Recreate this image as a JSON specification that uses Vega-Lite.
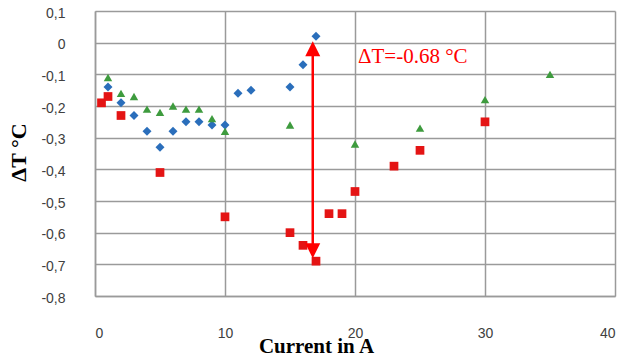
{
  "$schema": "https://vega.github.io/schema/vega-lite/v6.json",
  "width": 520,
  "height": 285,
  "autosize": {"type": "none"},
  "padding": {"left": 95, "top": 11, "right": 11, "bottom": 62},
  "background": "white",
  "config": {
    "view": {"stroke": null},
    "axis": {
      "grid": true,
      "gridColor": "#9a9a9a",
      "gridWidth": 1.5,
      "domainColor": "#9a9a9a",
      "domainWidth": 1.5,
      "ticks": false,
      "labelFont": "Liberation Sans",
      "labelFontSize": 14,
      "labelColor": "#404040",
      "labelOverlap": false,
      "titleFont": "Liberation Serif",
      "titleFontWeight": "bold",
      "titleColor": "#000000"
    }
  },
  "datasets": {
    "points": [
      {"x": 1, "y": -0.14, "s": "blue"},
      {"x": 2, "y": -0.19, "s": "blue"},
      {"x": 3, "y": -0.23, "s": "blue"},
      {"x": 4, "y": -0.28, "s": "blue"},
      {"x": 5, "y": -0.33, "s": "blue"},
      {"x": 6, "y": -0.28, "s": "blue"},
      {"x": 7, "y": -0.25, "s": "blue"},
      {"x": 8, "y": -0.25, "s": "blue"},
      {"x": 9, "y": -0.26, "s": "blue"},
      {"x": 10, "y": -0.26, "s": "blue"},
      {"x": 11, "y": -0.16, "s": "blue"},
      {"x": 12, "y": -0.15, "s": "blue"},
      {"x": 15, "y": -0.14, "s": "blue"},
      {"x": 16, "y": -0.07, "s": "blue"},
      {"x": 17, "y": 0.02, "s": "blue"},
      {"x": 0.5, "y": -0.19, "s": "red"},
      {"x": 1, "y": -0.17, "s": "red"},
      {"x": 2, "y": -0.23, "s": "red"},
      {"x": 5, "y": -0.41, "s": "red"},
      {"x": 10, "y": -0.55, "s": "red"},
      {"x": 15, "y": -0.6, "s": "red"},
      {"x": 16, "y": -0.64, "s": "red"},
      {"x": 17, "y": -0.69, "s": "red"},
      {"x": 18, "y": -0.54, "s": "red"},
      {"x": 19, "y": -0.54, "s": "red"},
      {"x": 20, "y": -0.47, "s": "red"},
      {"x": 23, "y": -0.39, "s": "red"},
      {"x": 25, "y": -0.34, "s": "red"},
      {"x": 30, "y": -0.25, "s": "red"},
      {"x": 1, "y": -0.11, "s": "green"},
      {"x": 2, "y": -0.16, "s": "green"},
      {"x": 3, "y": -0.17, "s": "green"},
      {"x": 4, "y": -0.21, "s": "green"},
      {"x": 5, "y": -0.22, "s": "green"},
      {"x": 6, "y": -0.2, "s": "green"},
      {"x": 7, "y": -0.21, "s": "green"},
      {"x": 8, "y": -0.21, "s": "green"},
      {"x": 9, "y": -0.24, "s": "green"},
      {"x": 10, "y": -0.28, "s": "green"},
      {"x": 15, "y": -0.26, "s": "green"},
      {"x": 20, "y": -0.32, "s": "green"},
      {"x": 25, "y": -0.27, "s": "green"},
      {"x": 30, "y": -0.18, "s": "green"},
      {"x": 35, "y": -0.1, "s": "green"}
    ],
    "arrow": [{"x": 16.75, "y": -0.02, "y2": -0.66}],
    "headUp": [{"x": 16.75, "y": -0.019}],
    "headDown": [{"x": 16.75, "y": -0.657}],
    "label": [{"x": 20.23, "y": -0.065, "text": "ΔT=-0.68 °C"}]
  },
  "encoding": {
    "x": {
      "field": "x",
      "type": "quantitative",
      "scale": {"domain": [0, 40], "nice": false},
      "axis": {
        "values": [0, 10, 20, 30, 40],
        "labelPadding": 41,
        "labelBaseline": "alphabetic",
        "title": "Current in A",
        "titleFontSize": 21,
        "titleBaseline": "alphabetic",
        "titleX": 221,
        "titleY": 56
      }
    },
    "y": {
      "field": "y",
      "type": "quantitative",
      "scale": {"domain": [-0.8, 0.1], "nice": false, "zero": false},
      "axis": {
        "values": [-0.8, -0.7, -0.6, -0.5, -0.4, -0.3, -0.2, -0.1, 0, 0.1],
        "labelExpr": "datum.value == 0 ? '0' : replace(replace(format(datum.value, '.1f'), '.', ','), '−', '-')",
        "labelPadding": 30,
        "labelOffset": 2,
        "title": "ΔT °C",
        "titleFontSize": 22,
        "titleBaseline": "alphabetic",
        "titleAlign": "center",
        "titleAngle": -90,
        "titleX": -70,
        "titleY": 141
      }
    }
  },
  "layer": [
    {
      "data": {"name": "points"},
      "mark": {"type": "point", "filled": true, "opacity": 1},
      "encoding": {
        "color": {
          "field": "s",
          "type": "nominal",
          "scale": {"domain": ["blue", "red", "green"], "range": ["#2a6ebb", "#e41414", "#3e9b3e"]},
          "legend": null
        },
        "shape": {
          "field": "s",
          "type": "nominal",
          "scale": {"domain": ["blue", "red", "green"], "range": ["diamond", "square", "triangle-up"]},
          "legend": null
        },
        "size": {
          "field": "s",
          "type": "nominal",
          "scale": {"domain": ["blue", "red", "green"], "range": [80, 72, 95]},
          "legend": null
        }
      }
    },
    {
      "data": {"name": "arrow"},
      "mark": {"type": "rule", "color": "#ff0000", "strokeWidth": 2.5},
      "encoding": {
        "y2": {"field": "y2"}
      }
    },
    {
      "data": {"name": "headUp"},
      "mark": {"type": "point", "filled": true, "opacity": 1, "size": 225, "color": "#ff0000", "shape": "M0,-1L1,1L-1,1Z"},
      "encoding": {}
    },
    {
      "data": {"name": "headDown"},
      "mark": {"type": "point", "filled": true, "opacity": 1, "size": 225, "color": "#ff0000", "shape": "M0,1L1,-1L-1,-1Z"},
      "encoding": {}
    },
    {
      "data": {"name": "label"},
      "mark": {"type": "text", "color": "#ff0000", "font": "Liberation Serif", "fontSize": 21, "align": "left", "baseline": "alphabetic"},
      "encoding": {
        "text": {"field": "text"}
      }
    }
  ]
}
